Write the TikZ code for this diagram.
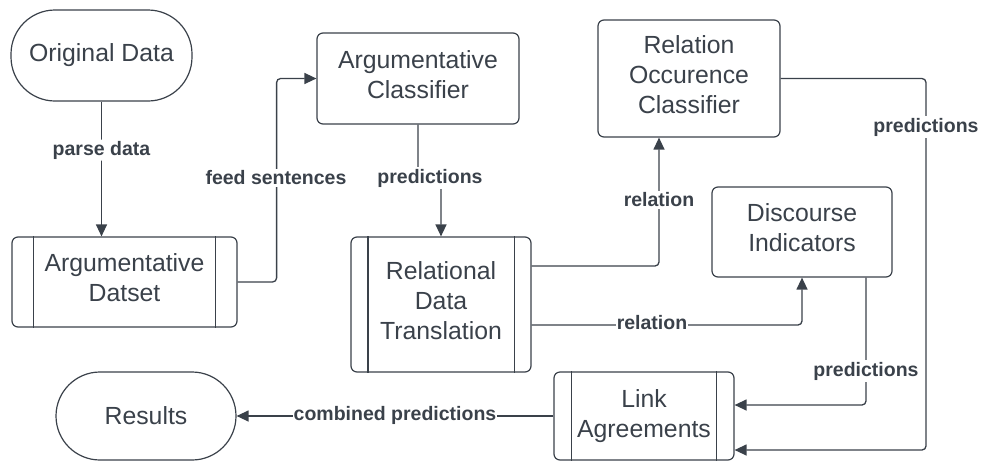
\documentclass[tikz,border=0pt]{standalone}
\usepackage{fontspec}
\setmainfont{Liberation Sans}
\usetikzlibrary{arrows.meta}
\definecolor{ink}{HTML}{3A414A}
\newcommand{\lowstrut}{\rule[-8pt]{0pt}{8pt}}
\tikzset{
  box/.style={draw=ink, line width=1.2pt, rounded corners=6pt, align=center, text=ink,
    font=\fontsize{24.8}{30}\selectfont, inner sep=0pt},
  stadium/.style={box, rounded corners=44pt},
  lbl/.style={fill=white, text=ink, font=\fontsize{19.5}{22}\selectfont\bfseries, inner sep=1.5pt},
  conn/.style={draw=ink, line width=1.3pt, rounded corners=4pt},
  arr/.style={conn, -{Triangle[length=12pt,width=11pt]}},
  inner/.style={draw=ink, line width=1.2pt}
}
\begin{document}
\begin{tikzpicture}[x=1pt,y=-1pt]
\useasboundingbox (0,0) rectangle (982,461);
% nodes
\node[stadium, minimum width=181pt, minimum height=91pt] (od) at (101.5,55.5) {Original Data};
\node[box, minimum width=225pt, minimum height=90pt] (ad) at (124.5,282) {Argumentative\\Datset\lowstrut};
\node[box, minimum width=202pt, minimum height=91pt] (ac) at (418,78.5) {Argumentative\\Classifier\lowstrut};
\node[box, minimum width=180pt, minimum height=135pt] (rdt) at (441,304.5) {Relational\\Data\\Translation\lowstrut};
\node[box, minimum width=182pt, minimum height=117pt] (roc) at (689,78.5) {Relation\\Occurence\\Classifier\lowstrut};
\node[box, minimum width=180pt, minimum height=90pt] (di) at (802,232) {Discourse\\Indicators\lowstrut};
\node[box, minimum width=180pt, minimum height=88pt] (la) at (644,416) {Link\\Agreements};
\node[stadium, minimum width=180pt, minimum height=88pt] (res) at (146,416) {Results};
% inner lines of process boxes
\foreach \n/\d in {ad/22pt, rdt/17.5pt, la/18pt}{
  \draw[inner] ([xshift=\d]\n.north west) -- ([xshift=\d]\n.south west);
  \draw[inner] ([xshift=-\d]\n.north east) -- ([xshift=-\d]\n.south east);
}
% connectors
\draw[arr] (od.south) -- (od.south |- ad.north) node[lbl, pos=0.36] (l1) {parse data};
\draw[arr] (ad.east) -- ++(39,0) |- (ac.west);
\node[lbl] (l2) at (276,178) {feed sentences};
\draw[arr] (ac.south) -- (418,178) -- (441,178) -- (rdt.north);
\node[lbl] (l3) at (430,178) {predictions};
\draw[arr] ([yshift=38.5pt]rdt.east) -| ([xshift=-30pt]roc.south);
\node[lbl] (l4) at (659,200) {relation};
\draw[arr] ([yshift=-20.5pt]rdt.east) -| (di.south);
\node[lbl, inner sep=0.5pt] (l5) at (652,323) {relation};
\draw[arr] (roc.east) -- (926,78.5) |- ([yshift=-34pt]la.east);
\node[lbl] (l6) at (926,127) {predictions};
\draw[arr] ([xshift=64pt]di.south) |- ([yshift=11pt]la.east);
\node[lbl] (l7) at (866,371) {predictions};
\draw[arr] (la.west) -- (res.east);
\node[lbl, inner sep=0.5pt] (l8) at (395,415) {combined predictions};
\end{tikzpicture}
\end{document}
